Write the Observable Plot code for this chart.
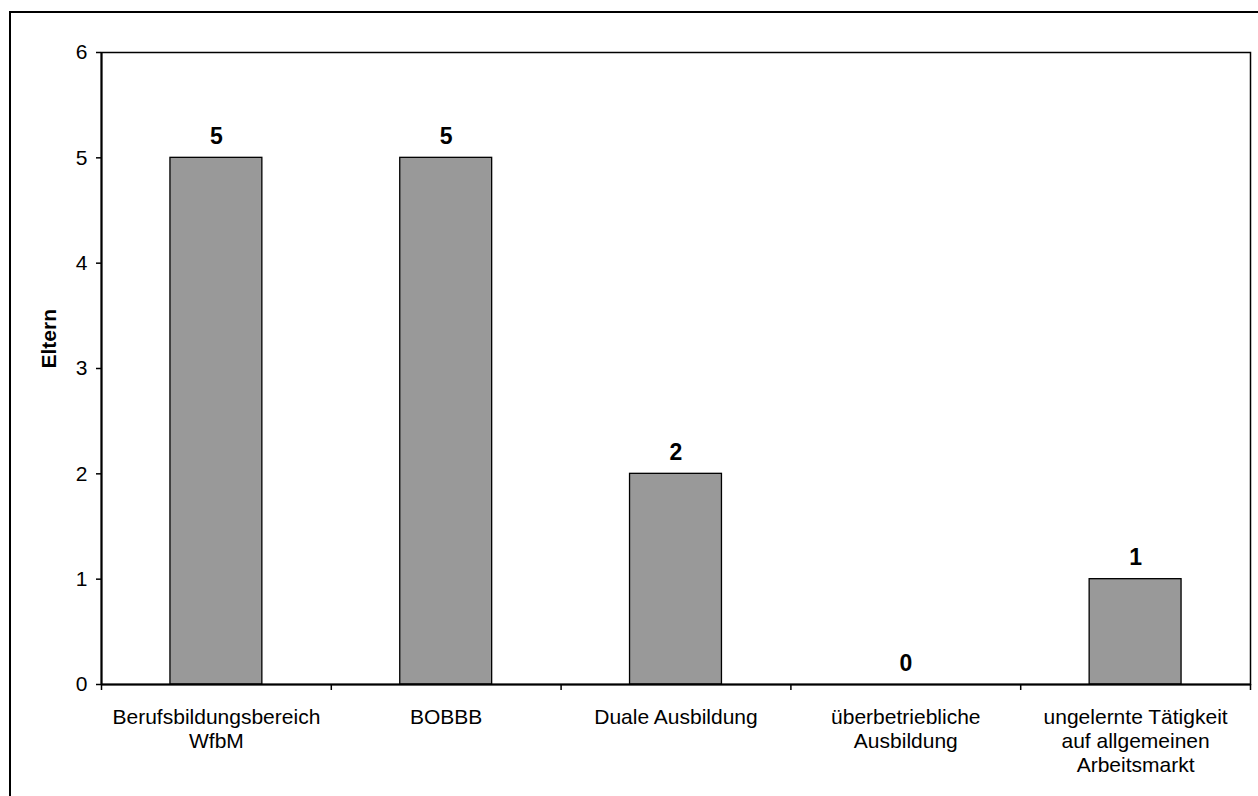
<!DOCTYPE html>
<html>
<head>
<meta charset="utf-8">
<script src="https://cdn.jsdelivr.net/npm/d3@7"></script>
<script src="https://cdn.jsdelivr.net/npm/@observablehq/plot@0.6"></script>
<style>
  html, body { margin: 0; padding: 0; background: #fff; overflow: hidden; width: 1258px; height: 796px; }
  #wrap { position: relative; width: 1258px; height: 796px; }
  #border { position: absolute; left: 9px; top: 11px; width: 1400px; height: 1000px; border: 2px solid #000; box-sizing: border-box; }
  #chart { position: absolute; left: 0; top: 0; }
</style>
</head>
<body>
<div id="wrap"><div id="border"></div><div id="chart"></div></div>
<script>
const categories = [
  "Berufsbildungsbereich\nWfbM",
  "BOBBB",
  "Duale Ausbildung",
  "überbetriebliche\nAusbildung",
  "ungelernte Tätigkeit\nauf allgemeinen\nArbeitsmarkt"
];
const values = [5, 5, 2, 0, 1];
const yTicks = [0, 1, 2, 3, 4, 5, 6];
const yLabel = "Eltern";

const data = categories.map((c, i) => ({cat: c, value: values[i], i}));
const font = "'Liberation Sans', Arial, sans-serif";

const chart = Plot.plot({
  width: 1258,
  height: 796,
  marginLeft: 101,
  marginTop: 52,
  marginRight: 8,
  marginBottom: 112,
  style: {fontFamily: font, background: "transparent", color: "#000"},
  x: {domain: [0, categories.length]},
  y: {domain: [0, 6]},
  marks: [
    Plot.frame({stroke: "#000", strokeWidth: 1.5}),
    Plot.axisY({ticks: yTicks, tickFormat: d3.format("d"), tickSize: 5, tickPadding: 9, fontSize: 21, label: null, stroke: "#000", strokeWidth: 1.5}),
    Plot.axisX({ticks: d3.range(categories.length + 1), tickSize: 6, tickFormat: () => "", label: null, stroke: "#000", strokeWidth: 1.5}),
    Plot.rectY(data, {x1: d => d.i + 0.3, x2: d => d.i + 0.7, y: "value", fill: "#999999", stroke: "#000", strokeWidth: 1.3}),
    Plot.ruleX([0], {stroke: "#000", strokeWidth: 2}),
    Plot.ruleY([0], {stroke: "#000", strokeWidth: 2}),
    Plot.text(data, {x: d => d.i + 0.5, y: "value", text: d => String(d.value), lineAnchor: "bottom", dy: -14, fontSize: 23, fontWeight: "bold", fill: "#000"}),
    Plot.text(data, {x: d => d.i + 0.5, y: 0, text: "cat", lineAnchor: "top", dy: 22, fontSize: 21, lineHeight: 24 / 21, fill: "#000"}),
    Plot.text([yLabel], {frameAnchor: "left", dx: -52, rotate: -90, text: d => d, fontSize: 21, fontWeight: "bold", fill: "#000"})
  ]
});
document.getElementById("chart").appendChild(chart);
</script>
</body>
</html>
